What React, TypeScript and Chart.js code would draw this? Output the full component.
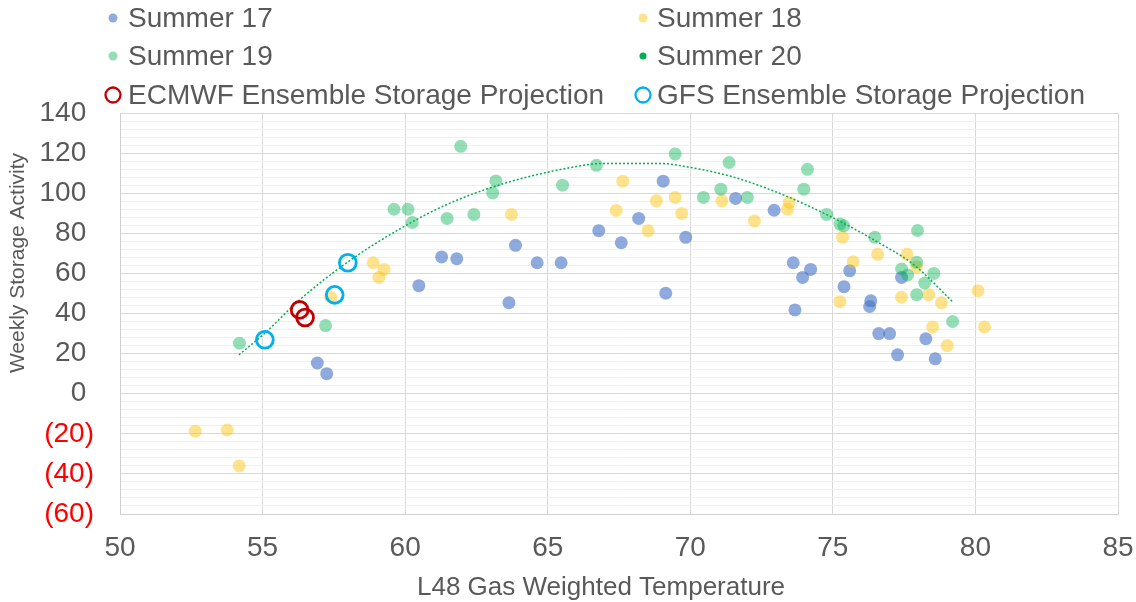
import { useEffect, useRef } from 'react';
import { Chart, registerables } from 'chart.js';

Chart.register(...registerables);

type Pt = [number, number];

const xTickValues = [50, 55, 60, 65, 70, 75, 80, 85];
const yMajorTicks = [-60, -40, -20, 0, 20, 40, 60, 80, 100, 120, 140];

const seriesNames = [
  'Summer 17',
  'Summer 18',
  'Summer 19',
  'Summer 20',
  'ECMWF Ensemble Storage Projection',
  'GFS Ensemble Storage Projection',
];

const summer17: Pt[] = [
  [56.92, 15.3], [57.25, 10.0], [60.48, 53.9], [61.28, 68.2], [61.81, 67.3],
  [63.64, 45.4], [63.87, 74.0], [64.63, 65.3], [65.47, 65.3], [66.79, 81.3],
  [67.58, 75.3], [68.19, 87.4], [69.05, 106.0], [69.14, 50.1], [69.84, 78.0],
  [71.59, 97.4], [72.94, 91.5], [73.61, 65.3], [73.67, 41.8], [73.94, 58.0],
  [74.22, 62.0], [75.39, 53.4], [75.59, 61.3], [76.29, 43.5], [76.33, 46.3],
  [76.61, 30.0], [76.99, 30.0], [77.27, 19.4], [77.41, 58.0], [78.26, 27.4],
  [78.59, 17.4],
];

const summer18: Pt[] = [
  [52.64, -18.7], [53.76, -18.1], [54.18, -36.0], [57.39, 48.1], [58.88, 65.3],
  [59.26, 62.0], [59.08, 58.0], [63.73, 89.4], [67.4, 91.4], [67.63, 106.0],
  [68.52, 81.3], [68.81, 96.2], [69.47, 97.9], [69.7, 89.9], [71.11, 96.2],
  [72.25, 86.1], [73.41, 92.0], [73.47, 95.4], [75.25, 45.9], [75.34, 78.0],
  [75.71, 65.8], [76.57, 69.5], [77.41, 48.1], [77.6, 69.5], [77.94, 63.3],
  [78.36, 49.4], [78.5, 33.3], [78.81, 45.3], [79.01, 24.0], [80.09, 51.4],
  [80.32, 33.3],
];

const summer19: Pt[] = [
  [54.19, 25.2], [57.21, 34.0], [59.61, 92.0], [60.1, 92.0], [60.25, 85.4],
  [61.47, 87.4], [61.95, 123.4], [62.41, 89.4], [63.07, 100.1], [63.18, 106.1],
  [65.52, 104.0], [66.71, 113.9], [69.47, 119.6], [70.46, 97.9], [71.07, 102.0],
  [71.36, 115.3], [72.0, 97.9], [73.98, 102.0], [74.11, 111.9], [74.78, 89.4],
  [75.25, 84.6], [75.38, 83.8], [76.47, 78.0], [77.41, 62.2], [77.62, 59.2],
  [77.94, 65.5], [77.94, 49.4], [77.97, 81.4], [78.22, 55.2], [78.54, 60.0],
  [79.2, 36.0],
];

const summer20: Pt[] = [];

const ecmwf: Pt[] = [[56.3, 41.8], [56.49, 38.0]];

const gfs: Pt[] = [[55.08, 26.9], [57.53, 49.3], [57.99, 65.3]];

const trendSummer19: Pt[] = [
  [54.17, 19.4], [55.05, 29.8], [56.3, 46.8], [58.0, 65.8], [59.84, 82.4],
  [61.47, 94.4], [63.5, 105.0], [65.92, 113.1], [66.86, 114.8], [68.96, 114.8],
  [70.02, 112.8], [71.5, 108.1], [73.29, 99.0], [75.05, 87.4], [76.45, 76.6],
  [77.85, 64.2], [79.2, 45.9],
];

const TEXT = '#595959';
const FONT = '"Liberation Sans", Arial, sans-serif';

const toXY = (arr: Pt[]) => arr.map(([x, y]) => ({ x, y }));

const overlayPlugin = {
  id: 'overlay',
  afterDraw(chart: any) {
    const ctx = chart.ctx as CanvasRenderingContext2D;
    ctx.save();
    // legend
    const entries = chart.data.datasets.filter((d: any) => !d.isTrend);
    const rowsY = [18, 56, 95];
    entries.forEach((d: any, i: number) => {
      const col = i % 2;
      const row = Math.floor(i / 2);
      const mx = col ? 643 : 113;
      const tx = col ? 657 : 128;
      const y = rowsY[row];
      ctx.beginPath();
      if (d.legendRing) {
        ctx.arc(mx, y, 7.5, 0, Math.PI * 2);
        ctx.lineWidth = 2.3;
        ctx.strokeStyle = d.borderColor;
        ctx.stroke();
      } else {
        ctx.arc(mx, y, d.legendRadius || 4.5, 0, Math.PI * 2);
        ctx.fillStyle = d.legendColor || d.backgroundColor;
        ctx.fill();
      }
      ctx.fillStyle = TEXT;
      ctx.font = `28px ${FONT}`;
      ctx.textAlign = 'left';
      ctx.textBaseline = 'middle';
      ctx.fillText(d.label, tx, y + 1);
    });
    // axis titles
    ctx.fillStyle = TEXT;
    ctx.font = `26px ${FONT}`;
    ctx.textAlign = 'center';
    ctx.textBaseline = 'middle';
    ctx.fillText('L48 Gas Weighted Temperature', 601, 588);
    ctx.translate(18, 263);
    ctx.rotate(-Math.PI / 2);
    ctx.font = `21px ${FONT}`;
    ctx.fillText('Weekly Storage Activity', 0, 0);
    ctx.restore();
  },
};

export default function App() {
  const ref = useRef<HTMLCanvasElement>(null);

  useEffect(() => {
    if (!ref.current) return;
    const dot = (label: string, data: Pt[], color: string, order: number, extra: any = {}) => ({
      label,
      data: toXY(data),
      backgroundColor: color,
      borderWidth: 0,
      pointRadius: 6.5,
      pointHoverRadius: 6.5,
      order,
      ...extra,
    });
    const ring = (label: string, data: Pt[], color: string, order: number) => ({
      label,
      data: toXY(data),
      backgroundColor: 'rgba(0,0,0,0)',
      borderColor: color,
      borderWidth: 2.8,
      pointRadius: 8.4,
      pointHoverRadius: 8.4,
      legendRing: true,
      order,
    });
    const chart = new Chart(ref.current, {
      type: 'scatter',
      data: {
        datasets: [
          dot(seriesNames[0], summer17, 'rgba(68,114,196,0.6)', 7),
          dot(seriesNames[1], summer18, 'rgba(255,192,0,0.45)', 6),
          dot(seriesNames[2], summer19, 'rgba(0,176,80,0.42)', 5),
          dot(seriesNames[3], summer20, '#00B050', 4, { legendRadius: 3.5, pointRadius: 3.5 }),
          ring(seriesNames[4], ecmwf, '#C00000', 1),
          ring(seriesNames[5], gfs, '#00B0F0', 0),
          {
            label: 'Poly. (Summer 19)',
            data: toXY(trendSummer19),
            isTrend: true,
            showLine: true,
            borderColor: '#00B050',
            borderWidth: 1.5,
            borderDash: [2, 2],
            pointRadius: 0,
            pointHoverRadius: 0,
            cubicInterpolationMode: 'monotone',
            fill: false,
            order: 2,
          } as any,
        ] as any,
      },
      options: {
        animation: false,
        responsive: false,
        devicePixelRatio: 1,
        layout: { autoPadding: false, padding: { top: 113, right: 18, left: 0, bottom: 0 } },
        plugins: {
          legend: { display: false },
          tooltip: { enabled: false },
        },
        scales: {
          x: {
            type: 'linear',
            min: 50,
            max: 85,
            afterFit: (s: any) => { s.height = 88; s.paddingLeft = 0; s.paddingRight = 0; },
            afterBuildTicks: (s: any) => { s.ticks = xTickValues.map((v) => ({ value: v })); },
            ticks: {
              color: TEXT,
              font: { family: FONT, size: 28 },
              padding: 17,
              maxRotation: 0,
              autoSkip: false,
            },
            grid: { color: '#D9D9D9', drawTicks: false, lineWidth: 1 },
            border: { color: '#D0D0D0' },
          },
          y: {
            type: 'linear',
            min: -60,
            max: 140,
            afterFit: (s: any) => { s.width = 120; s.paddingTop = 0; s.paddingBottom = 0; },
            ticks: {
              stepSize: 4,
              maxTicksLimit: 100,
              autoSkip: false,
              padding: 26,
              font: { family: FONT, size: 28 },
              color: (c: any) => (c.tick && c.tick.value < 0 ? '#FF0000' : TEXT),
              callback: (v: any) => {
                const n = Number(v);
                if (!yMajorTicks.includes(n)) return '';
                return n < 0 ? `(${Math.abs(n)})` : `${n} `;
              },
            },
            grid: {
              drawTicks: false,
              lineWidth: 1,
              color: (c: any) => (c.tick && yMajorTicks.includes(c.tick.value) ? '#D9D9D9' : '#F0F0F0'),
            },
            border: { color: '#D0D0D0' },
          },
        },
      } as any,
      plugins: [overlayPlugin],
    });
    return () => chart.destroy();
  }, []);

  return (
    <div style={{ position: 'absolute', left: 0, top: 0, width: 1136, height: 602, background: '#fff' }}>
      <canvas ref={ref} width={1136} height={602} style={{ width: 1136, height: 602 }} />
    </div>
  );
}
